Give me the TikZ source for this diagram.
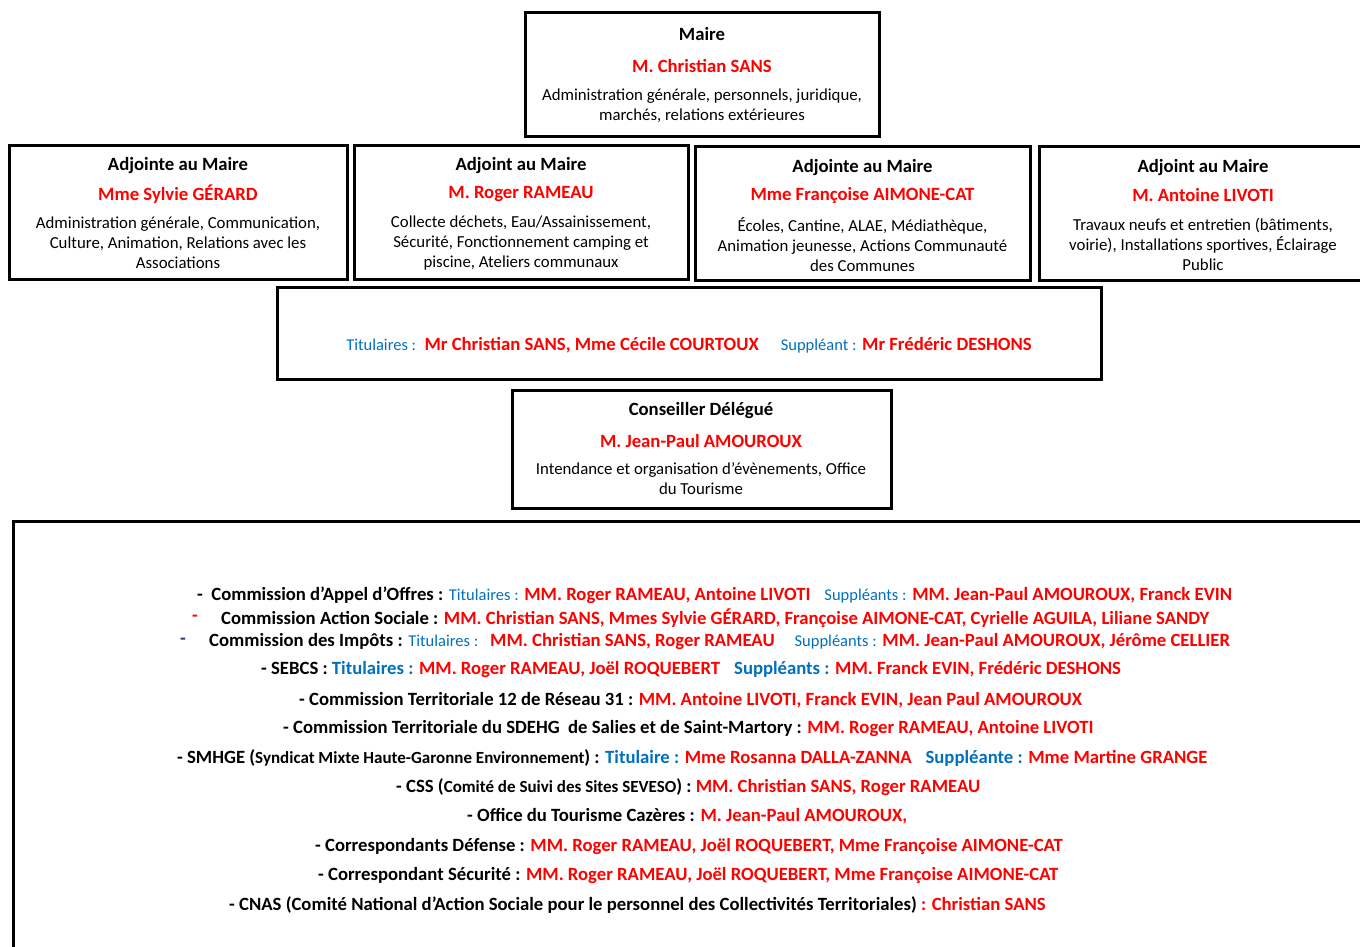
\documentclass[tikz,border=0pt]{standalone}
\usepackage{fontspec}
\setmainfont{Carlito}
\definecolor{rouge}{RGB}{255,0,0}
\definecolor{bleu}{RGB}{0,112,192}
\definecolor{marine}{RGB}{32,56,100}
\newcommand{\tit}[1]{\textcolor{bleu}{#1}}
\newcommand{\titp}[1]{{\fontsize{16.5}{18}\selectfont\mdseries\textcolor{bleu}{#1}}}
\newcommand{\elu}[1]{\textcolor{rouge}{#1}}
\newcommand{\detail}[1]{{\fontsize{17}{18}\selectfont #1}}
\begin{document}
\begin{tikzpicture}[x=1pt,y=-1pt,
  cadre/.style={draw,line width=3pt,inner sep=0pt},
  fonction/.style={font=\fontsize{18.7}{23}\selectfont\bfseries,inner sep=0pt},
  nom/.style={fonction,text=rouge},
  mission/.style={font=\fontsize{16.8}{20}\selectfont,align=center,inner sep=0pt},
  ligne/.style={anchor=west,font=\fontsize{18.7}{23}\selectfont\bfseries,inner sep=0pt}]
\useasboundingbox[fill=white] (0,0) rectangle (1360,946);

\node[cadre,minimum width=354,minimum height=124] (maire) at (702,74) {};
\node[fonction] (maire-f) at (702,34) {Maire};
\node[nom] (maire-n) at (702,65.5) {M. Christian SANS};
\node[mission] (maire-m) at (702,106) {Administration générale, personnels, juridique,\\marchés, relations extérieures};

\foreach \id/\cx/\cy/\w/\fct/\nm/\msn in {
  gerard/178/212/338/{Adjointe au Maire}/{Mme Sylvie GÉRARD}/{Administration générale, Communication,\\Culture, Animation, Relations avec les\\Associations},
  rameau/521/212/334/{Adjoint au Maire}/{M. Roger RAMEAU}/{Collecte déchets, Eau/Assainissement,\\Sécurité, Fonctionnement camping et\\piscine, Ateliers communaux},
  aimone/862.5/213.5/335/{Adjointe au Maire}/{Mme Françoise AIMONE-CAT}/{Écoles, Cantine, ALAE, Médiathèque,\\Animation jeunesse, Actions Communauté\\des Communes},
  livoti/1203/213.5/328/{Adjoint au Maire}/{M. Antoine LIVOTI}/{Travaux neufs et entretien (bâtiments,\\voirie), Installations\ sportives, Éclairage\\Public}}
{
  \node[cadre,minimum width=\w,minimum height=134] (\id) at (\cx,\cy) {};
  \node[fonction] (\id-f) at (\cx,\cy-46) {\fct};
  \node[nom] (\id-n) at (\cx,\cy-18) {\nm};
  \node[mission] (\id-m) at (\cx,\cy+31) {\msn};
}

\node[cadre,minimum width=824,minimum height=92] (conseil) at (689,333) {};
\node[fonction] (conseil-t) at ([yshift=-12pt]conseil.center) {\titp{Titulaires :}\ \ \elu{Mr Christian SANS, Mme Cécile COURTOUX}\hspace{22pt}\titp{Suppléant :} \elu{Mr Frédéric DESHONS}};

\node[cadre,minimum width=379,minimum height=118] (delegue) at (701.5,449) {};
\node[fonction] (delegue-f) at (701,411) {Conseiller Délégué};
\node[nom] (delegue-n) at (701,440.5) {M. Jean-Paul AMOUROUX};
\node[mission] (delegue-m) at (701,479) {Intendance et organisation d’évènements, Office\\du Tourisme};

\node[cadre,anchor=north west,minimum width=1400,minimum height=460] (commissions) at (12,520) {};

\node[ligne,text=rouge] (d2) at (192,618) {-};
\node[ligne,text=marine] (d3) at (180,641) {-};
\foreach \n/\x/\y/\txt in {
  1/197/595/{-\ \ Commission d’Appel d’Offres : \titp{Titulaires :} \elu{MM. Roger RAMEAU, Antoine LIVOTI}\hspace{14pt}\titp{Suppléants :} \elu{MM. Jean-Paul AMOUROUX, Franck EVIN}},
  2/221/618/{Commission Action Sociale : \elu{MM. Christian SANS, Mmes Sylvie GÉRARD, Françoise AIMONE-CAT, Cyrielle AGUILA, Liliane SANDY}},
  3/209/641/{Commission des Impôts : \titp{Titulaires :}\hspace{12pt}\elu{MM. Christian SANS, Roger RAMEAU}\hspace{20pt}\titp{Suppléants :} \elu{MM. Jean-Paul AMOUROUX, Jérôme CELLIER}},
  4/261/670/{- SEBCS : \tit{Titulaires :} \elu{MM. Roger RAMEAU, Joël ROQUEBERT}\hspace{14pt}\tit{Suppléants :} \elu{MM. Franck EVIN, Frédéric DESHONS}},
  5/299/700/{- Commission Territoriale 12 de Réseau 31 : \elu{MM. Antoine LIVOTI, Franck EVIN, Jean Paul AMOUROUX}},
  6/283/729/{- Commission Territoriale du SDEHG\ \ de Salies et de Saint-Martory : \elu{MM. Roger RAMEAU, Antoine LIVOTI}},
  7/177/758/{- SMHGE (\detail{Syndicat Mixte Haute-Garonne\ Environnement}) : \tit{Titulaire :} \elu{Mme Rosanna DALLA-ZANNA}\hspace{14pt}\tit{Suppléante :} \elu{Mme Martine GRANGE}},
  8/396/787/{- CSS (\detail{Comité de Suivi des Sites SEVESO}) : \elu{MM. Christian SANS, Roger RAMEAU}},
  9/467/816/{- Office du Tourisme Cazères : \elu{M. Jean-Paul AMOUROUX,}},
  10/315/847/{- Correspondants Défense : \elu{MM. Roger RAMEAU, Joël ROQUEBERT, Mme Françoise AIMONE-CAT}},
  11/318/876/{- Correspondant Sécurité : \elu{MM. Roger RAMEAU, Joël ROQUEBERT, Mme Françoise AIMONE-CAT}},
  12/229/905/{- CNAS (Comité National d’Action Sociale pour le personnel des Collectivités Territoriales)\ \elu{: Christian SANS}}}
  \node[ligne] (l\n) at (\x,\y) {\txt};
\end{tikzpicture}
\end{document}
